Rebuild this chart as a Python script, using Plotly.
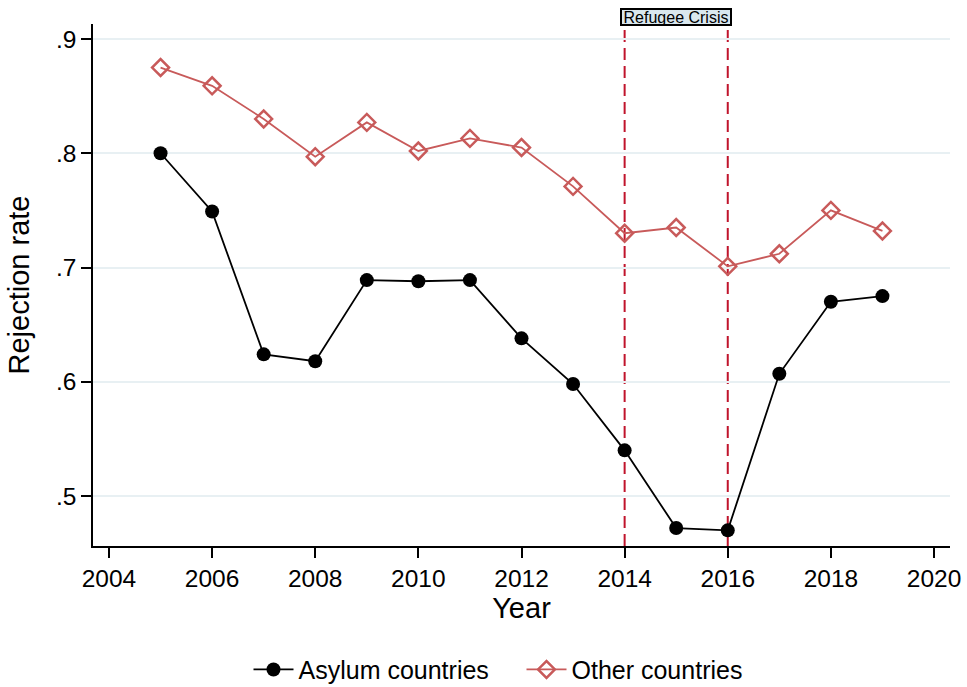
import plotly.graph_objects as go

years = [2005, 2006, 2007, 2008, 2009, 2010, 2011, 2012, 2013, 2014, 2015, 2016, 2017, 2018, 2019]
asylum = [0.800, 0.749, 0.624, 0.618, 0.689, 0.688, 0.689, 0.638, 0.598, 0.540, 0.472, 0.470, 0.607, 0.670, 0.675]
other = [0.875, 0.859, 0.830, 0.797, 0.827, 0.802, 0.813, 0.805, 0.771, 0.730, 0.735, 0.701, 0.712, 0.750, 0.732]

y_ticks = [0.5, 0.6, 0.7, 0.8, 0.9]
y_labels = ['.5', '.6', '.7', '.8', '.9']
x_ticks = [2004, 2006, 2008, 2010, 2012, 2014, 2016, 2018, 2020]
crisis = [2014, 2016]

red = '#c85a5a'
font = 'Liberation Sans, Arial, sans-serif'

fig = go.Figure()

fig.add_trace(go.Scatter(
    x=years, y=asylum, name='Asylum countries',
    mode='lines+markers',
    line=dict(color='black', width=1.8),
    marker=dict(symbol='circle', size=14, color='black')))

fig.add_trace(go.Scatter(
    x=years, y=other, name='Other countries',
    mode='lines+markers',
    line=dict(color=red, width=1.8),
    marker=dict(symbol='diamond-open', size=13, color=red, line=dict(width=2.5, color=red))))

# refugee crisis window
for yr in crisis:
    fig.add_shape(type='line', xref='x', yref='paper',
                  x0=yr, x1=yr, y0=0, y1=0.99,
                  line=dict(color='#c0142c', width=2, dash='12px,6px'),
                  layer='between')

fig.add_annotation(x=sum(crisis) / 2, y=1.0, xref='x', yref='paper',
                   text='Refugee Crisis', showarrow=False,
                   yanchor='bottom', xanchor='center', yshift=-2,
                   width=108, height=14,
                   font=dict(size=16, color='black', family=font),
                   bgcolor='#d9e7ee', bordercolor='black', borderwidth=2, borderpad=0)

fig.update_layout(
    width=967, height=687,
    margin=dict(l=93, r=17, t=24, b=141, autoexpand=False),
    paper_bgcolor='white', plot_bgcolor='white',
    font=dict(family=font, size=24.5, color='black'),
    showlegend=True,
    legend=dict(orientation='h', x=0.5, xanchor='center', y=-0.237, yanchor='middle',
                font=dict(size=25), itemwidth=40, entrywidth=218),
)

fig.update_xaxes(
    range=[2003.69, 2020.31],
    tickvals=x_ticks, ticks='outside', ticklen=10, tickwidth=1.5, tickcolor='black',
    tickfont=dict(size=24.5),
    showline=True, linecolor='black', linewidth=1.5,
    showgrid=False, zeroline=False, automargin=False,
    title=dict(text='Year', standoff=6),
)

fig.update_yaxes(
    range=[0.4563, 0.9131],
    tickvals=y_ticks, ticktext=y_labels,
    ticks='outside', ticklen=10, tickwidth=1.5, tickcolor='black',
    tickfont=dict(size=24.5),
    showline=True, linecolor='black', linewidth=1.5,
    showgrid=True, gridcolor='#e8f0f3', gridwidth=1.5, zeroline=False, automargin=False,
    title=dict(text='Rejection rate', standoff=18),
)

fig.write_html('out.html', config={'displayModeBar': False},
               post_script="document.body.style.margin='0';")
